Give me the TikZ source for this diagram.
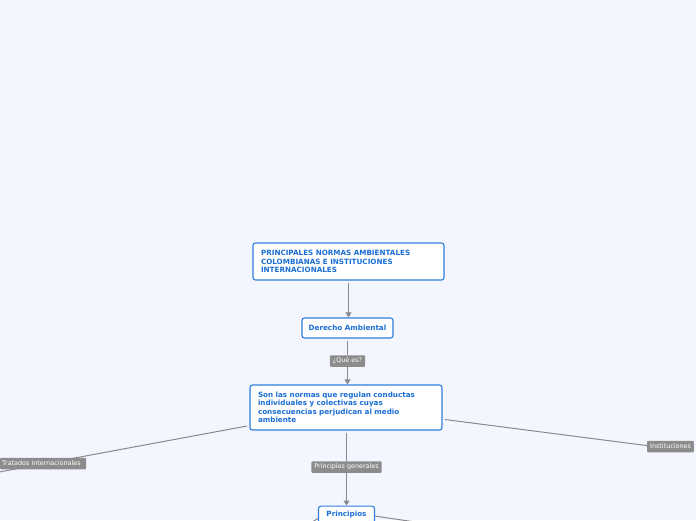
\documentclass[tikz,border=0pt]{standalone}
\usepackage{fontspec}
\setmainfont{DejaVu Sans}
\usetikzlibrary{arrows.meta}
\definecolor{bg}{HTML}{F3F6FE}
\definecolor{boxblue}{HTML}{2E7FDB}
\definecolor{txtblue}{HTML}{1A6ED6}
\definecolor{lblgray}{HTML}{8C8C8C}
\definecolor{linegray}{HTML}{888A90}
\tikzset{
  topicbox/.style={draw=boxblue, line width=1.1pt, fill=white, rounded corners=2.5pt,
    font=\bfseries\fontsize{7.2}{8.4}\selectfont, text=txtblue, align=left, anchor=center},
  lbl/.style={fill=lblgray, text=white, rounded corners=1pt, font=\fontsize{6.4}{7}\selectfont,
    inner xsep=3pt, inner ysep=0pt, minimum height=11.5pt, anchor=center},
  conn/.style={draw=linegray, line width=1pt},
  arr/.style={conn, -{Triangle[width=6pt,length=5pt]}}
}
\begin{document}
\begin{tikzpicture}[x=1pt,y=-1pt]
\clip (0,0) rectangle (696,520);
\fill[bg] (0,0) rectangle (696,520);
% boxes
\node[topicbox, minimum width=191pt, minimum height=37pt, text width=175pt, inner xsep=8pt] (b1) at (348.5,261.5)
  {PRINCIPALES NORMAS AMBIENTALES\\COLOMBIANAS E INSTITUCIONES\\INTERNACIONALES};
\node[topicbox, minimum width=91pt, minimum height=20pt, align=center] (b2) at (347.5,328) {Derecho Ambiental};
\node[topicbox, minimum width=192pt, minimum height=45pt, text width=176pt, inner xsep=8pt] (b3) at (346,407.5)
  {Son las normas que regulan conductas\\individuales y colectivas cuyas\\consecuencias perjudican al medio\\ambiente};
\node[topicbox, minimum width=56pt, inner ysep=5pt, align=center, anchor=north] (b4) at (346.5,505.5) {Principios};
% coordinates for free ends
\coordinate (offL) at (-60,483);
\coordinate (offR) at (470,530);
\coordinate (offLL) at (290,535);
% connectors
\draw[arr] (348.5,283) -- (b2.north -| 348.5,283);
\node[lbl] (q) at (347.5,361) {¿Qué es?};
\draw[conn] (347.5,341) -- (q.north);
\draw[arr] (q.south) -- (q.south |- b3.north);
\node[lbl] (pg) at (346.5,467) {Principios generales};
\draw[conn] (346.5,433) -- (pg.north);
\draw[arr] (pg.south) -- (b4.north);
\draw[conn] (247,426) -- (offL);
\node[lbl, anchor=west, inner xsep=2pt, minimum width=86pt, align=left, text width=82pt] (tr) at (0,463.5) {Tratados internacionales};
\draw[conn] (445,419.5) -- (650,446);
\node[lbl, anchor=west] (inst) at (647,446.5) {Instituciones};
\draw[conn] (374.5,516) -- (offR);
\draw[conn] (318,518.5) -- (offLL);
\end{tikzpicture}
\end{document}
